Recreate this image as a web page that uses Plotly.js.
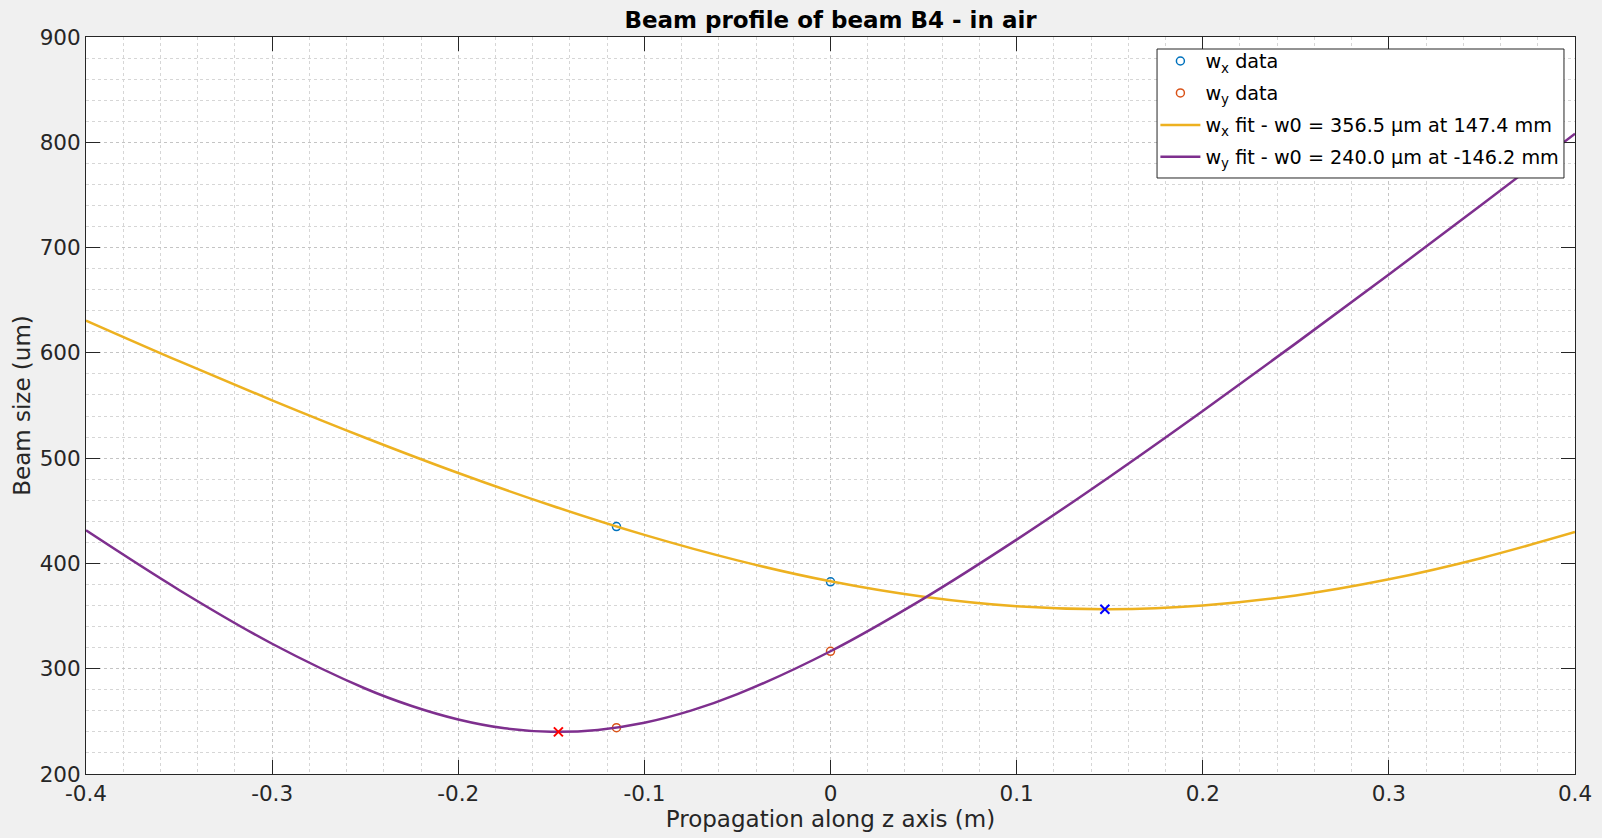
<!DOCTYPE html>
<html>
<head>
<meta charset="utf-8">
<script src="https://cdn.plot.ly/plotly-3.0.1.min.js"></script>
<style>html,body{margin:0;padding:0;background:#f0f0f0;}#chart{width:1602px;height:838px;}</style>
</head>
<body>
<div id="chart"></div>
<script>
// Measured data points (z in m, beam size in um)
const dataZ = [-0.115, 0.0];
const wxData = [435, 382.5];
const wyData = [244, 316.5];

// Waist positions (fit results)
const waistXz = [0.1474];
const waistXw = [356.5];
const waistYz = [-0.1462];
const waistYw = [240.0];

// wx fit curve
const fitXz = [-0.40,-0.35,-0.30,-0.25,-0.20,-0.15,-0.10,-0.05,0.00,0.05,0.10,0.15,0.20,0.25,0.30,0.35,0.40];
const fitXw = [630.7,592.1,554.9,519.4,485.9,455.0,427.1,402.9,383.0,368.3,359.3,356.5,360.0,369.6,384.9,405.2,429.8];

// wy fit curve
const fitYz = [-0.40,-0.35,-0.30,-0.25,-0.225,-0.20,-0.175,-0.15,-0.125,-0.10,-0.075,-0.05,0.00,0.05,0.10,0.15,0.20,0.25,0.30,0.35,0.40];
const fitYw = [431.4,374.8,323.7,281.2,264.6,251.8,243.4,240.1,241.9,248.7,260.2,275.8,316.6,366.6,422.6,482.4,544.8,609.0,674.4,740.9,808.1];

// Labels
const titleText = "Beam profile of beam B4 - in air";
const xLabel = "Propagation along z axis (m)";
const yLabel = "Beam size (um)";
const legendNames = [
  "w<sub>x</sub> data",
  "w<sub>y</sub> data",
  "w<sub>x</sub> fit - w0 = 356.5 µm at 147.4 mm",
  "w<sub>y</sub> fit - w0 = 240.0 µm at -146.2 mm"
];
const xTicks = [-0.4,-0.3,-0.2,-0.1,0,0.1,0.2,0.3,0.4];
const xTickText = ["-0.4","-0.3","-0.2","-0.1","0","0.1","0.2","0.3","0.4"];
const yTicks = [200,300,400,500,600,700,800,900];

const traces = [
  {x: dataZ, y: wxData, mode: 'markers', name: legendNames[0], type: 'scatter', legendgroup: 'a',
   marker: {symbol: 'circle-open', size: 8, color: '#0072BD', line: {width: 1.5, color: '#0072BD'}}},
  {x: dataZ, y: wyData, mode: 'markers', name: legendNames[1], type: 'scatter', legendgroup: 'b',
   marker: {symbol: 'circle-open', size: 8, color: '#D95319', line: {width: 1.5, color: '#D95319'}}},
  {x: fitXz, y: fitXw, mode: 'lines', name: legendNames[2], type: 'scatter', legendgroup: 'c',
   line: {color: '#EDB120', width: 2.5, shape: 'spline'}},
  {x: fitYz, y: fitYw, mode: 'lines', name: legendNames[3], type: 'scatter', legendgroup: 'd',
   line: {color: '#7E2F8E', width: 2.5, shape: 'spline'}},
  {x: waistXz, y: waistXw, mode: 'markers', showlegend: false, type: 'scatter',
   marker: {symbol: 'x-thin-open', size: 9, color: '#0000FF', line: {width: 2, color: '#0000FF'}}},
  {x: waistYz, y: waistYw, mode: 'markers', showlegend: false, type: 'scatter',
   marker: {symbol: 'x-thin-open', size: 9, color: '#FF0000', line: {width: 2, color: '#FF0000'}}}
];

const axisCommon = {
  showline: true, linecolor: '#262626', linewidth: 1, mirror: 'ticks',
  ticks: 'inside', ticklen: 14, tickcolor: '#262626', tickwidth: 1,
  showgrid: true, gridcolor: '#c4c4c4', griddash: 'dot', gridwidth: 1,
  zeroline: false,
  tickfont: {family: 'DejaVu Sans', size: 21.5, color: '#262626'}
};

const layout = {
  width: 1602, height: 838,
  paper_bgcolor: '#f0f0f0', plot_bgcolor: '#ffffff',
  margin: {l: 86, r: 27, t: 37, b: 64},
  font: {family: 'DejaVu Sans', color: '#262626'},
  title: {text: '<b>' + titleText + '</b>', x: 0.5, xref: 'paper', y: 0.976, yref: 'container', yanchor: 'middle',
          font: {family: 'DejaVu Sans', size: 23, color: '#000000'}},
  xaxis: Object.assign({}, axisCommon, {
    range: [-0.4, 0.4], tickvals: xTicks, ticktext: xTickText,
    title: {text: xLabel, font: {family: 'DejaVu Sans', size: 23, color: '#262626'}, standoff: 6},
    minor: {dtick: 0.02, showgrid: true, gridcolor: '#d6d6d6', griddash: 'dot', gridwidth: 1, ticks: ''}
  }),
  yaxis: Object.assign({}, axisCommon, {
    range: [200, 900], tickvals: yTicks,
    title: {text: yLabel, font: {family: 'DejaVu Sans', size: 23, color: '#262626'}, standoff: 2},
    minor: {dtick: 20, showgrid: true, gridcolor: '#d6d6d6', griddash: 'dot', gridwidth: 1, ticks: ''}
  }),
  // legend box (white panel with dark border) drawn behind the legend entries
  shapes: [{
    type: 'rect', xref: 'paper', yref: 'paper', layer: 'above',
    x0: 0.7193, x1: 0.9926, y0: 0.8087, y1: 0.9837,
    fillcolor: '#ffffff', line: {color: '#262626', width: 1}
  }],
  legend: {
    x: 0.7182, y: 0.9932, xanchor: 'left', yanchor: 'top',
    bgcolor: 'rgba(0,0,0,0)', borderwidth: 0,
    font: {family: 'DejaVu Sans', size: 19.2, color: '#000000'},
    itemwidth: 40, tracegroupgap: 4
  },
  showlegend: true
};

Plotly.newPlot('chart', traces, layout, {displayModeBar: false, staticPlot: true});
</script>
</body>
</html>
